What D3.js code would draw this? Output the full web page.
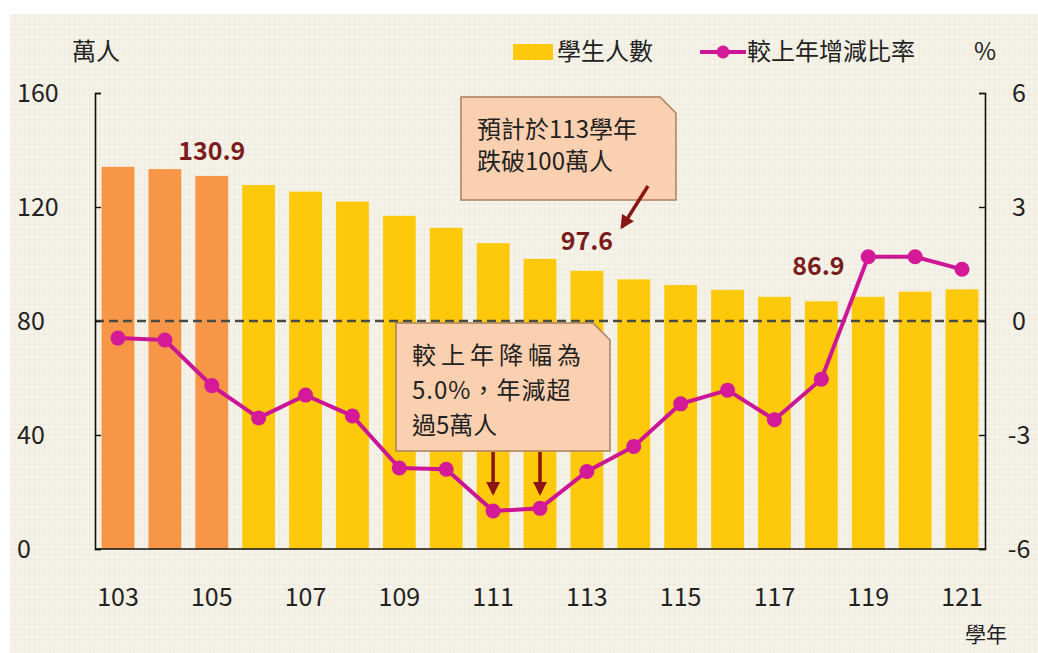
<!DOCTYPE html>
<html>
<head>
<meta charset="utf-8">
<script src="https://cdn.jsdelivr.net/npm/d3@7"></script>
<style>
  body { margin: 0; background: #fff; }
  text { font-family: "Liberation Sans Narrow", "Noto Sans CJK TC", sans-serif; fill: #222; }
  .cjk { font-family: "Noto Sans CJK TC", sans-serif; }
</style>
</head>
<body>
<script>
// data
var years = ["103","104","105","106","107","108","109","110","111","112","113","114","115","116","117","118","119","120","121"];
var students = [134.1,133.3,130.9,127.7,125.4,121.9,116.9,112.7,107.3,101.8,97.6,94.6,92.6,90.9,88.5,86.9,88.5,90.3,91.1];
var changePct = [-0.45,-0.5,-1.7,-2.55,-1.95,-2.5,-3.87,-3.9,-5.0,-4.93,-3.96,-3.3,-2.18,-1.82,-2.6,-1.53,1.69,1.69,1.36];
var actualYears = ["103","104","105"];
var leftTicks = [0,40,80,120,160];
var rightTicks = [-6,-3,0,3,6];
var xTickLabels = ["103","105","107","109","111","113","115","117","119","121"];
var valueLabels = [{year:"105", text:"130.9"},{year:"113", text:"97.6"},{year:"118", text:"86.9"}];

var width = 1038, height = 653;
var plotLeft = 95, plotRight = 985, plotTop = 93, plotBottom = 549;

var svg = d3.select("body").append("svg")
    .attr("width", width)
    .attr("height", height);

var defs = svg.append("defs");
var pat = defs.append("pattern")
    .attr("id", "grid")
    .attr("width", 5).attr("height", 5)
    .attr("patternUnits", "userSpaceOnUse");
pat.append("rect").attr("width", 5).attr("height", 5).attr("fill", "#f5f2e8");
pat.append("path").attr("d", "M5,0V5M0,5H5").attr("stroke", "#ebe7da").attr("stroke-width", 1);

defs.append("marker")
    .attr("id", "arrow")
    .attr("viewBox", "0 0 10 10")
    .attr("refX", 8).attr("refY", 5)
    .attr("markerWidth", 4).attr("markerHeight", 4)
    .attr("orient", "auto")
  .append("path")
    .attr("d", "M0,0L10,5L0,10z")
    .attr("fill", "#8b1515");

// background
svg.append("rect")
    .attr("x", 10).attr("y", 14)
    .attr("width", width - 10).attr("height", height - 14)
    .attr("fill", "url(#grid)");

var x = d3.scaleBand().domain(years).range([plotLeft, plotRight])
    .paddingInner(0.3).paddingOuter(0.14);
var yL = d3.scaleLinear().domain([0,160]).range([plotBottom, plotTop]);
var yR = d3.scaleLinear().domain([-6,6]).range([plotBottom, plotTop]);

// bars
svg.append("g").selectAll("rect")
    .data(years)
    .join("rect")
    .attr("x", function(d){ return x(d); })
    .attr("y", function(d,i){ return yL(students[i]); })
    .attr("width", x.bandwidth())
    .attr("height", function(d,i){ return yL(0) - yL(students[i]); })
    .attr("fill", function(d){ return actualYears.indexOf(d) >= 0 ? "#f79646" : "#ffc90b"; });

// zero line dashed
svg.append("line")
    .attr("x1", plotLeft).attr("x2", plotRight)
    .attr("y1", yR(0)).attr("y2", yR(0))
    .attr("stroke", "#4a4a44")
    .attr("stroke-width", 2.5)
    .attr("stroke-dasharray", "9,5");

// axes
var axL = svg.append("g")
    .attr("transform", "translate(" + plotLeft + ",0)")
    .call(d3.axisRight(yL).tickValues(leftTicks).tickSize(6).tickFormat(""));
var axR = svg.append("g")
    .attr("transform", "translate(" + plotRight + ",0)")
    .call(d3.axisLeft(yR).tickValues(rightTicks).tickSize(6).tickFormat(""));
[axL, axR].forEach(function(a){
    a.select(".domain").attr("stroke", "#111").attr("stroke-width", 1.6);
    a.selectAll(".tick line").attr("stroke", "#111").attr("stroke-width", 1.4);
});
svg.append("line")
    .attr("x1", plotLeft).attr("x2", plotRight)
    .attr("y1", plotBottom).attr("y2", plotBottom)
    .attr("stroke", "#111").attr("stroke-width", 1.6);

// tick labels
svg.append("g").selectAll("text")
    .data(leftTicks)
    .join("text")
    .attr("x", 17).attr("y", function(d){ return yL(d); })
    .attr("dy", "0.35em")
    .attr("font-size", 25)
    .text(function(d){ return d; });
svg.append("g").selectAll("text")
    .data(rightTicks)
    .join("text")
    .attr("x", 1019).attr("y", function(d){ return yR(d); })
    .attr("dy", "0.35em")
    .attr("text-anchor", "middle")
    .attr("font-size", 25)
    .text(function(d){ return d; });
svg.append("g").selectAll("text")
    .data(xTickLabels)
    .join("text")
    .attr("x", function(d){ return x(d) + x.bandwidth()/2; })
    .attr("y", 597)
    .attr("dy", "0.35em")
    .attr("text-anchor", "middle")
    .attr("font-size", 25)
    .text(function(d){ return d; });

// axis titles
svg.append("text").attr("class", "cjk").attr("x", 72).attr("y", 52).attr("dy", "0.35em")
    .attr("font-size", 24).text("萬人");
svg.append("text").attr("x", 985).attr("y", 52).attr("dy", "0.35em")
    .attr("text-anchor", "middle").attr("font-size", 24).text("%");
svg.append("text").attr("class", "cjk").attr("x", 965).attr("y", 635).attr("dy", "0.35em")
    .attr("font-size", 21).text("學年");

// line
var line = d3.line()
    .x(function(d,i){ return x(years[i]) + x.bandwidth()/2; })
    .y(function(d){ return yR(d); });
svg.append("path")
    .datum(changePct)
    .attr("d", line)
    .attr("fill", "none")
    .attr("stroke", "#cc1695")
    .attr("stroke-width", 4);
svg.append("g").selectAll("circle")
    .data(changePct)
    .join("circle")
    .attr("cx", function(d,i){ return x(years[i]) + x.bandwidth()/2; })
    .attr("cy", function(d){ return yR(d); })
    .attr("r", 7.5)
    .attr("fill", "#d41a98");

// value labels
var labelOffset = {"105": 25, "113": 30, "118": 35};
svg.append("g").selectAll("text")
    .data(valueLabels)
    .join("text")
    .attr("x", function(d){ return x(d.year) + x.bandwidth()/2 + (d.year === "118" ? -3 : 0); })
    .attr("y", function(d){ return yL(students[years.indexOf(d.year)]) - labelOffset[d.year]; })
    .attr("dy", "0.35em")
    .attr("text-anchor", "middle")
    .attr("font-size", 25)
    .attr("font-weight", "bold")
    .style("fill", "#7a1c1c")
    .text(function(d){ return d.text; });

// legend
var lg = svg.append("g");
lg.append("rect").attr("x", 513).attr("y", 44).attr("width", 40).attr("height", 16).attr("fill", "#ffc90b");
lg.append("text").attr("class", "cjk").attr("x", 557).attr("y", 52).attr("dy", "0.35em")
    .attr("font-size", 24).text("學生人數");
lg.append("line").attr("x1", 700).attr("x2", 746).attr("y1", 52).attr("y2", 52)
    .attr("stroke", "#cc1695").attr("stroke-width", 4);
lg.append("circle").attr("cx", 723).attr("cy", 52).attr("r", 6.5).attr("fill", "#d41a98");
lg.append("text").attr("class", "cjk").attr("x", 747).attr("y", 52).attr("dy", "0.35em")
    .attr("font-size", 24).text("較上年增減比率");

// callouts
function callout(x0, y0, w, h, cut, lines, spacing) {
    var g = svg.append("g");
    g.append("path")
        .attr("d", "M" + x0 + "," + y0 + "H" + (x0 + w - cut) + "L" + (x0 + w) + "," + (y0 + cut) +
              "V" + (y0 + h) + "H" + x0 + "Z")
        .attr("fill", "#fbd0b0")
        .attr("stroke", "#a9805e")
        .attr("stroke-width", 1.5);
    lines.forEach(function(t, i){
        g.append("text").attr("class", "cjk")
            .attr("x", x0 + 16)
            .attr("y", y0 + 33 + i * spacing)
            .attr("dy", "0.35em")
            .attr("font-size", 24)
            .attr("letter-spacing", t.ls || 0)
            .text(t.s);
    });
}
callout(461, 97, 215, 103, 16, [{s:"預計於113學年"},{s:"跌破100萬人"}], 32);
callout(396, 323, 214, 128, 17, [{s:"較上年降幅為", ls:5},{s:"5.0%，年減超", ls:1},{s:"過5萬人"}], 35);

function arrow(x1, y1, x2, y2) {
    svg.append("line")
        .attr("x1", x1).attr("y1", y1).attr("x2", x2).attr("y2", y2)
        .attr("stroke", "#8b1515").attr("stroke-width", 3.5)
        .attr("marker-end", "url(#arrow)");
}
arrow(648, 186, 622, 227);
arrow(x("111") + x.bandwidth()/2, 452, x("111") + x.bandwidth()/2, 493);
arrow(x("112") + x.bandwidth()/2, 452, x("112") + x.bandwidth()/2, 493);
</script>
</body>
</html>
